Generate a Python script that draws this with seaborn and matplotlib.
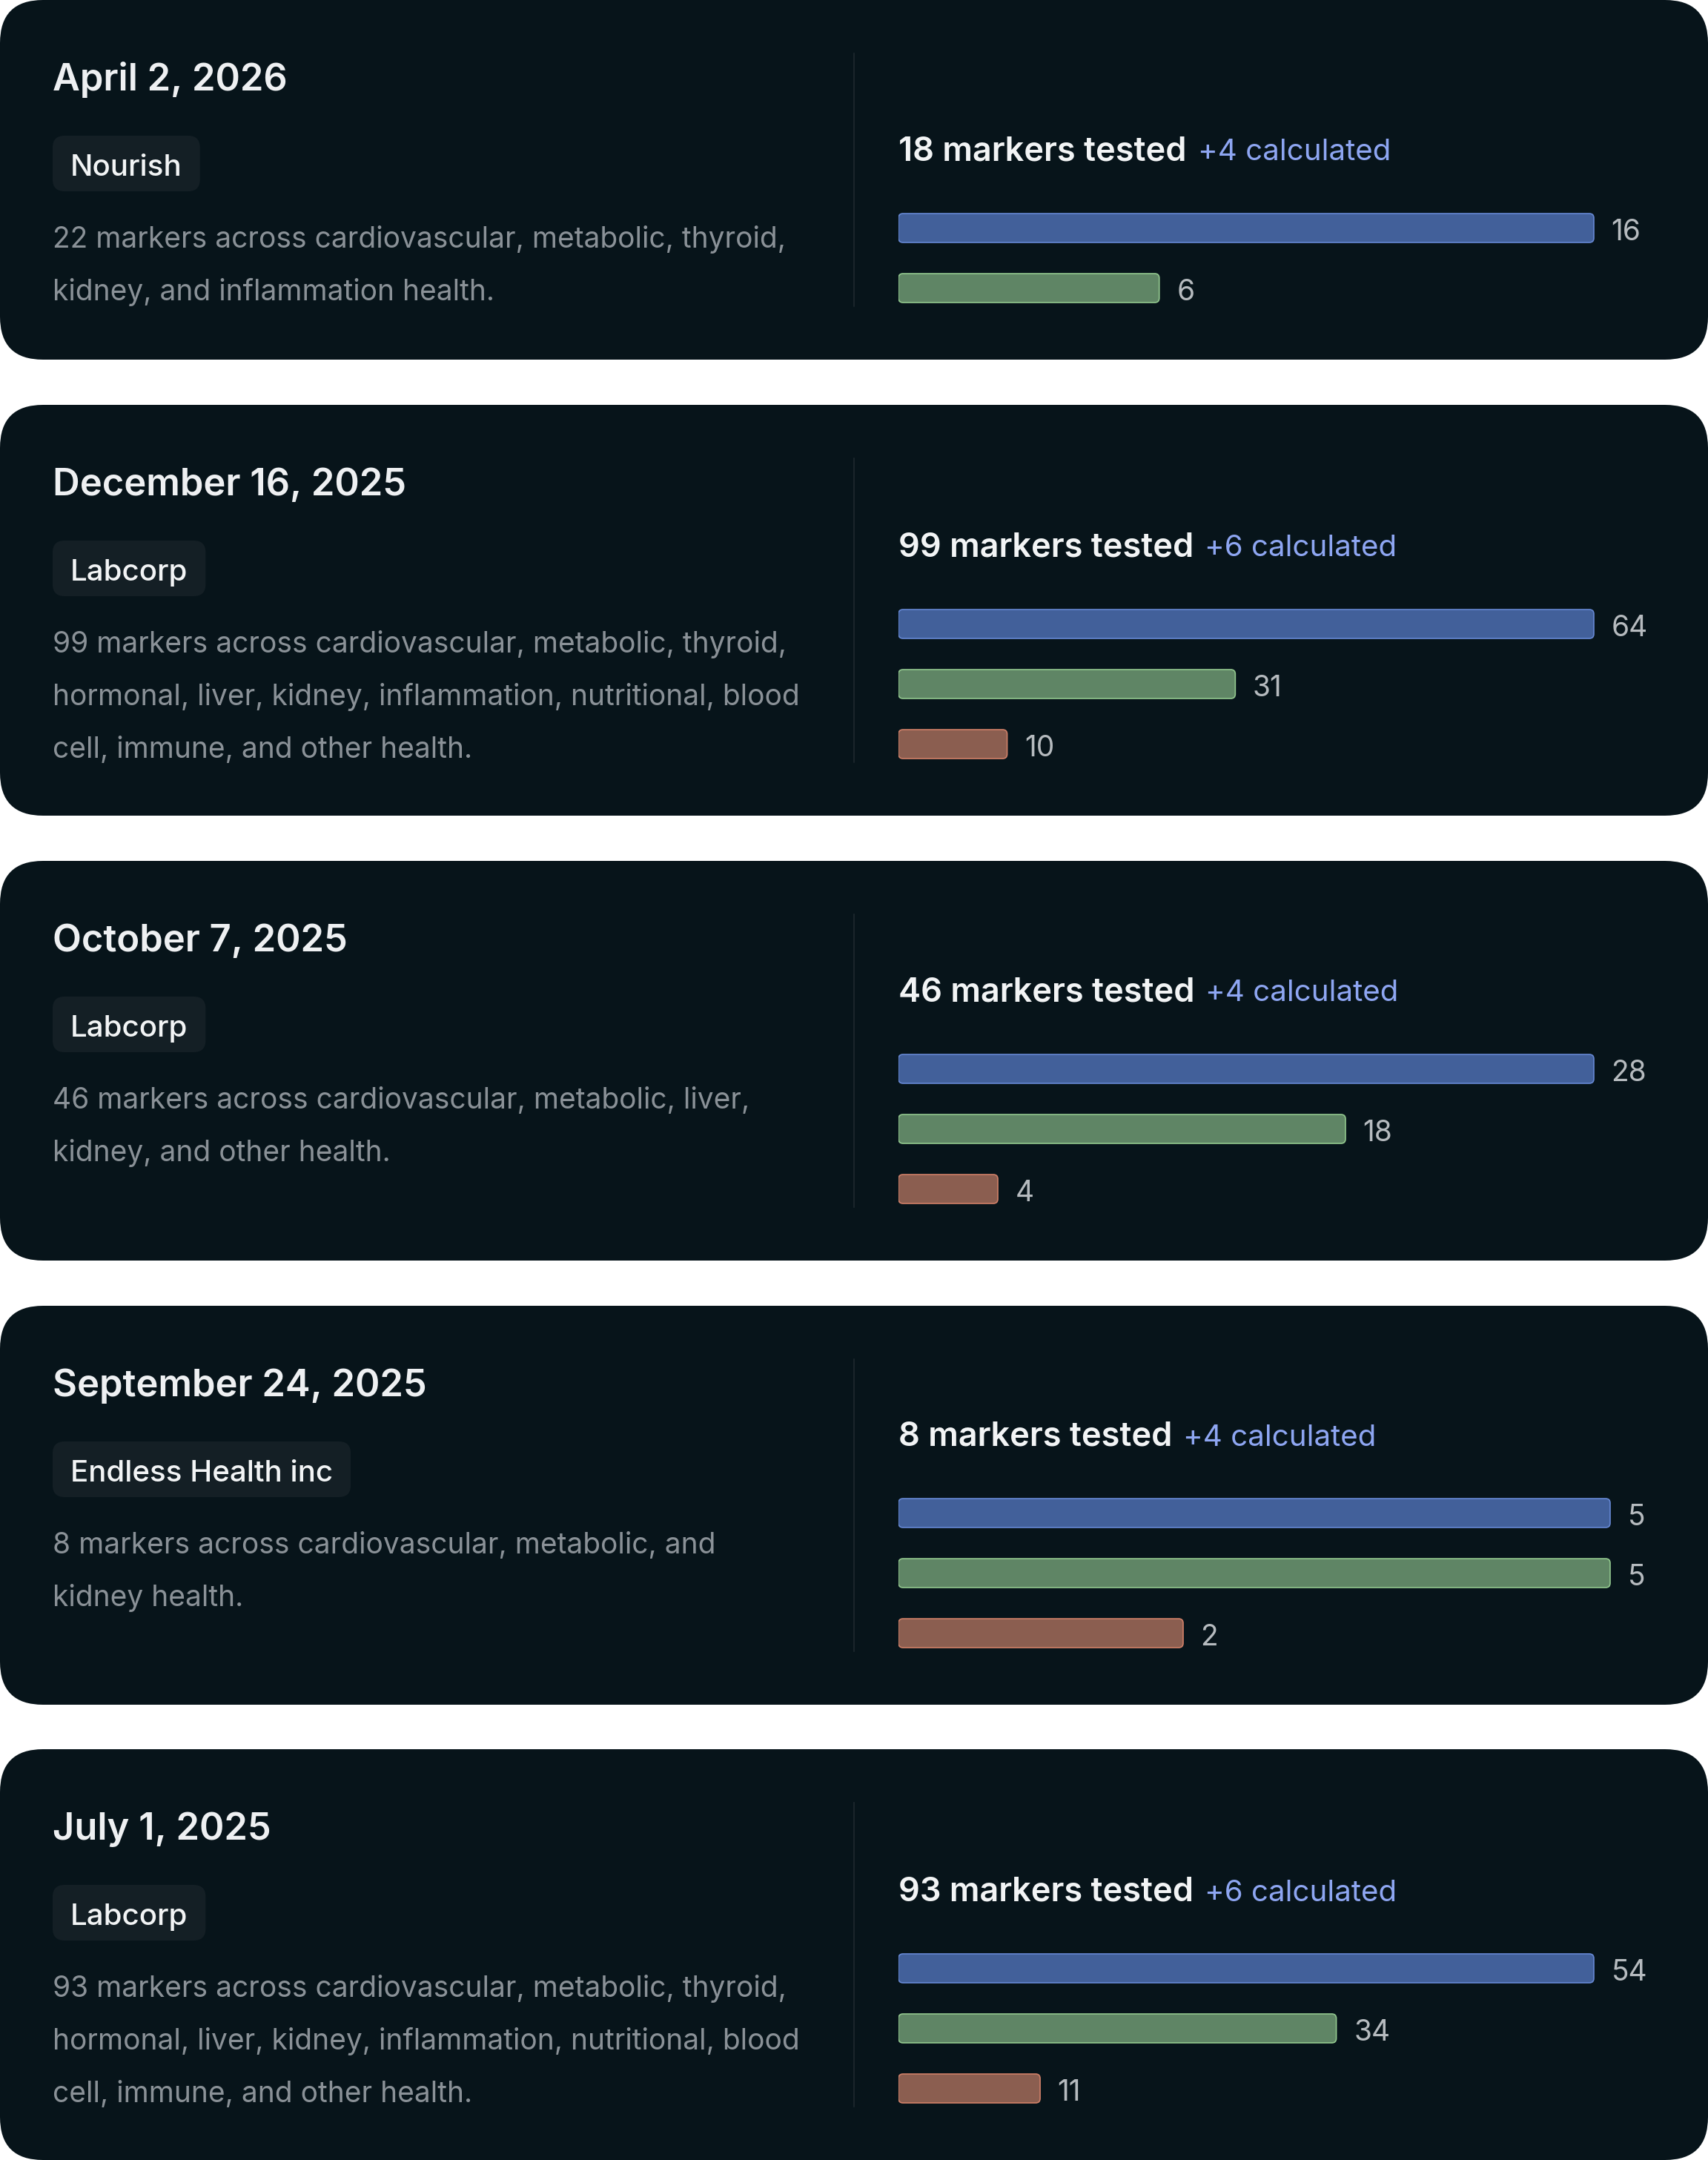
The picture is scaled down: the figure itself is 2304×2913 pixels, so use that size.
import matplotlib
matplotlib.use('Agg')
import matplotlib.pyplot as plt
from matplotlib.patches import FancyBboxPatch
import seaborn as sns

# ---- data ----
dates = ['April 2, 2026', 'December 16, 2025', 'October 7, 2025', 'September 24, 2025', 'July 1, 2025']
labs = ['Nourish', 'Labcorp', 'Labcorp', 'Endless Health inc', 'Labcorp']
tested = [18, 99, 46, 8, 93]
calculated = [4, 6, 4, 4, 6]
descriptions = [
    ['22 markers across cardiovascular, metabolic, thyroid,',
     'kidney, and inflammation health.'],
    ['99 markers across cardiovascular, metabolic, thyroid,',
     'hormonal, liver, kidney, inflammation, nutritional, blood',
     'cell, immune, and other health.'],
    ['46 markers across cardiovascular, metabolic, liver,',
     'kidney, and other health.'],
    ['8 markers across cardiovascular, metabolic, and',
     'kidney health.'],
    ['93 markers across cardiovascular, metabolic, thyroid,',
     'hormonal, liver, kidney, inflammation, nutritional, blood',
     'cell, immune, and other health.'],
]
statuses = ['optimal', 'in range', 'out of range']
optimal = [16, 64, 28, 5, 54]
in_range = [6, 31, 18, 5, 34]
out_of_range = [0, 10, 4, 2, 11]

fills = {'optimal': '#42609a', 'in range': '#5f8565', 'out of range': '#8b5e50'}
edges = {'optimal': '#6688d4', 'in range': '#92c88e', 'out of range': '#d08068'}

# ---- layout (pixels) ----
W, H = 2304, 2913
card_tops = [0, 546, 1161, 1761, 2359]
card_bottoms = [485, 1100, 1700, 2299, 2913]
CARD = '#07141a'
PAD_X = 71
BAR_X0, BAR_X1 = 1212, 2218
STEP, BAR_H = 81, 39

sns.set_style('white')
plt.rcParams['font.family'] = ['Inter', 'DejaVu Sans']

fig = plt.figure(figsize=(W / 100, H / 100), dpi=100, facecolor='white')
bg = fig.add_axes([0, 0, 1, 1])
bg.set_xlim(0, W)
bg.set_ylim(H, 0)
bg.axis('off')
renderer = fig.canvas.get_renderer()


def round_bars(ax, colors, radius=6):
    bb = ax.get_window_extent(renderer)
    x0, x1 = ax.get_xlim()
    y0, y1 = ax.get_ylim()
    ppx = bb.width / (x1 - x0)
    ppy = bb.height / abs(y1 - y0)
    for p in list(ax.patches):
        x, y, w, h = p.get_x(), p.get_y(), p.get_width(), p.get_height()
        if w <= 0:
            p.remove()
            continue
        idx = int(round(y + h / 2))
        ax.add_patch(FancyBboxPatch(
            (x, y), w, h, boxstyle=f'round,pad=0,rounding_size={radius / ppx}',
            mutation_aspect=ppx / ppy, facecolor=p.get_facecolor(),
            edgecolor=colors[idx], linewidth=1.2))
        p.remove()


for i in range(len(dates)):
    top, bottom = card_tops[i], card_bottoms[i]
    bg.add_patch(FancyBboxPatch((0, top), W, bottom - top,
                                boxstyle='round,pad=0,rounding_size=58',
                                facecolor=CARD, edgecolor='none', zorder=0))

    # left column
    bg.text(PAD_X, top + 122, dates[i], color='#eef0f2', fontsize=36.5,
            fontweight='semibold', va='baseline', ha='left')
    t = bg.text(PAD_X + 24, top + 237, labs[i], color='#f2f4f5', fontsize=29,
                fontweight='medium', va='baseline', ha='left', zorder=3)
    tb = t.get_window_extent(renderer)
    bg.add_patch(FancyBboxPatch((PAD_X, top + 183), tb.x1 + 24 - PAD_X, 75,
                                boxstyle='round,pad=0,rounding_size=16',
                                facecolor='#141f25', edgecolor='none', zorder=2))
    for k, line in enumerate(descriptions[i]):
        bg.text(PAD_X, top + 334 + 71 * k, line, color='#8a9197', fontsize=28,
                va='baseline', ha='left')

    # divider
    bg.plot([1152, 1152], [top + 72, bottom - 72], color='#1a252b', lw=1.5)

    # right column: bars
    vals = [optimal[i], in_range[i], out_of_range[i]]
    cats = [s for s, v in zip(statuses, vals) if v > 0]
    vals = [v for v in vals if v > 0]
    n = len(vals)
    last_c = bottom - 96.5
    first_c = last_c - STEP * (n - 1)

    hb = bg.text(BAR_X0, first_c - 91, f'{tested[i]} markers tested', color='#f2f4f5',
                 fontsize=32.5, fontweight='semibold', va='baseline', ha='left')
    hbb = hb.get_window_extent(renderer)
    bg.text(hbb.x1 + 15, first_c - 91, f'+{calculated[i]} calculated', color='#8ea6f2',
            fontsize=29, va='baseline', ha='left')

    ax_top = first_c - STEP / 2
    ax_bot = last_c + STEP / 2
    ax = fig.add_axes([BAR_X0 / W, 1 - ax_bot / H, (BAR_X1 - BAR_X0) / W, (ax_bot - ax_top) / H])
    sns.barplot(x=vals, y=cats, hue=cats, orient='h', palette=fills, legend=False,
                width=BAR_H / STEP, ax=ax, saturation=1)
    digits = len(str(max(vals)))
    bar_end = BAR_X1 - 22 * digits - 24
    xmax = max(vals) * (BAR_X1 - BAR_X0) / (bar_end - BAR_X0)
    ax.set_xlim(0, xmax)
    ax.set_ylim(n - 0.5, -0.5)
    for c in ax.containers:
        for ann in ax.bar_label(c, padding=17, color='#b6bbbf', fontsize=28):
            ann.xyann = (17, -4)
    ax.axis('off')
    round_bars(ax, [edges[c] for c in cats])

fig.savefig('out.png', dpi=100, facecolor='white')
